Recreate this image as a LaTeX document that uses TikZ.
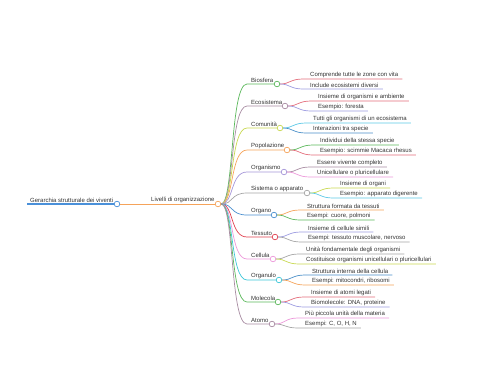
\documentclass[tikz,border=0pt]{standalone}
\usepackage{fontspec}
\setmainfont{Liberation Sans}
\definecolor{txt}{HTML}{333333}
\definecolor{cRoot}{HTML}{4A90D9}
\definecolor{cHub}{HTML}{F5A35A}
\definecolor{cGreen}{HTML}{5CB85C}
\definecolor{cMauve}{HTML}{A88CA2}
\definecolor{cYel}{HTML}{C8D850}
\definecolor{cOrange}{HTML}{F5A35A}
\definecolor{cLav}{HTML}{A596D8}
\definecolor{cGray}{HTML}{A5A5A5}
\definecolor{cBlue}{HTML}{4A8FCF}
\definecolor{cRed}{HTML}{E0404F}
\definecolor{cPink}{HTML}{EC98DA}
\definecolor{cCyan}{HTML}{3CC6D8}
\definecolor{cRose}{HTML}{E36D7B}
\definecolor{cSky}{HTML}{5CC8E6}
\definecolor{cSteel}{HTML}{4A8FC8}
\definecolor{cPurp}{HTML}{9C9BE0}
\begin{document}
\begin{tikzpicture}[x=1pt,y=-1pt,
  lbl/.style={font=\fontsize{6}{7}\selectfont,text=txt,inner xsep=1.5pt,inner ysep=0.8pt,anchor=south west},
  conn/.style={line width=0.7pt},
  dot/.style={circle,fill=white,line width=0.7pt,minimum size=5.6pt,inner sep=0pt}]
\useasboundingbox (0,0) rectangle (480,384);
\newcommand\mmlevel[5]{%
  \node[dot,draw=#3] (#1d) at (#4,#5) {};
  \coordinate (#1s) at (247,#5);
  \draw[conn,#3] (hub) .. controls (234,204) and (230,#5) .. (#1s) -- (#1d);
  \node[lbl] (#1t) at (249.5,#5) {#2};
}
\newcommand\mmleaf[7]{% parent, name, text, color, cx, cy, ly
  \node[lbl] (#2) at ({#5+31.5},#7) {#3};
  \coordinate (#2s) at ({#5+26},#7);
  \draw[conn,#4] (#1d) .. controls ({#5+13},#6) and ({#5+13},#7) .. (#2s) -- ([xshift=2.5pt]#2.south east);
}
% root and hub
\node[dot,draw=cRoot] (rootd) at (117,204) {};
\node[dot,draw=cHub] (hub) at (218,204) {};
\coordinate (rootst) at (27,204);
\draw[cRoot,line width=1.4pt] (rootst) -- (rootd);
\draw[conn,cHub] (rootd) -- (hub);
\node[lbl] (root) at (28.5,204) {Gerarchia strutturale dei viventi};
\node[lbl] (hubt) at (149.5,204) {Livelli di organizzazione};
% level 1
\mmlevel{bio}{Biosfera}{cGreen}{277}{84}
\mmlevel{eco}{Ecosistema}{cMauve}{285}{106}
\mmlevel{com}{Comunità}{cYel}{280}{128}
\mmlevel{pop}{Popolazione}{cOrange}{287}{150}
\mmlevel{org}{Organismo}{cLav}{284}{172}
\mmlevel{sis}{Sistema o apparato}{cGray}{307}{193}
\mmlevel{ogn}{Organo}{cBlue}{274}{215}
\mmlevel{tes}{Tessuto}{cRed}{275}{237}
\mmlevel{cel}{Cellula}{cPink}{273}{259}
\mmlevel{olo}{Organulo}{cCyan}{279}{280}
\mmlevel{mol}{Molecola}{cGreen}{278}{302}
\mmlevel{ato}{Atomo}{cMauve}{272}{324}
% leaves
\mmleaf{bio}{bioa}{Comprende tutte le zone con vita}{cRose}{277}{84}{79}
\mmleaf{bio}{biob}{Include ecosistemi diversi}{cPurp}{277}{84}{89}
\mmleaf{eco}{ecoa}{Insieme di organismi e ambiente}{cRose}{285}{106}{101}
\mmleaf{eco}{ecob}{Esempio: foresta}{cPurp}{285}{106}{111}
\mmleaf{com}{coma}{Tutti gli organismi di un ecosistema}{cSky}{280}{128}{123}
\mmleaf{com}{comb}{Interazioni tra specie}{cSteel}{280}{128}{133}
\mmleaf{pop}{popa}{Individui della stessa specie}{cGreen}{287}{150}{145}
\mmleaf{pop}{popb}{Esempio: scimmie Macaca rhesus}{cRose}{287}{150}{155}
\mmleaf{org}{orga}{Essere vivente completo}{cMauve}{284}{172}{167}
\mmleaf{org}{orgb}{Unicellulare o pluricellulare}{cPink}{284}{172}{177}
\mmleaf{sis}{sisa}{Insieme di organi}{cYel}{307}{193}{188}
\mmleaf{sis}{sisb}{Esempio: apparato digerente}{cSky}{307}{193}{198}
\mmleaf{ogn}{ogna}{Struttura formata da tessuti}{cOrange}{274}{215}{210}
\mmleaf{ogn}{ognb}{Esempi: cuore, polmoni}{cGreen}{274}{215}{220}
\mmleaf{tes}{tesa}{Insieme di cellule simili}{cPurp}{275}{237}{232}
\mmleaf{tes}{tesb}{Esempi: tessuto muscolare, nervoso}{cGray}{275}{237}{242}
\mmleaf{cel}{cela}{Unità fondamentale degli organismi}{cGray}{273}{259}{254}
\mmleaf{cel}{celb}{Costituisce organismi unicellulari o pluricellulari}{cYel}{273}{259}{264}
\mmleaf{olo}{oloa}{Struttura interna della cellula}{cSteel}{279}{280}{275}
\mmleaf{olo}{olob}{Esempi: mitocondri, ribosomi}{cOrange}{279}{280}{285}
\mmleaf{mol}{mola}{Insieme di atomi legati}{cRose}{278}{302}{297}
\mmleaf{mol}{molb}{Biomolecole: DNA, proteine}{cPurp}{278}{302}{307}
\mmleaf{ato}{atoa}{Più piccola unità della materia}{cPink}{272}{324}{318}
\mmleaf{ato}{atob}{Esempi: C, O, H, N}{cGray}{272}{324}{328}
\end{tikzpicture}
\end{document}
